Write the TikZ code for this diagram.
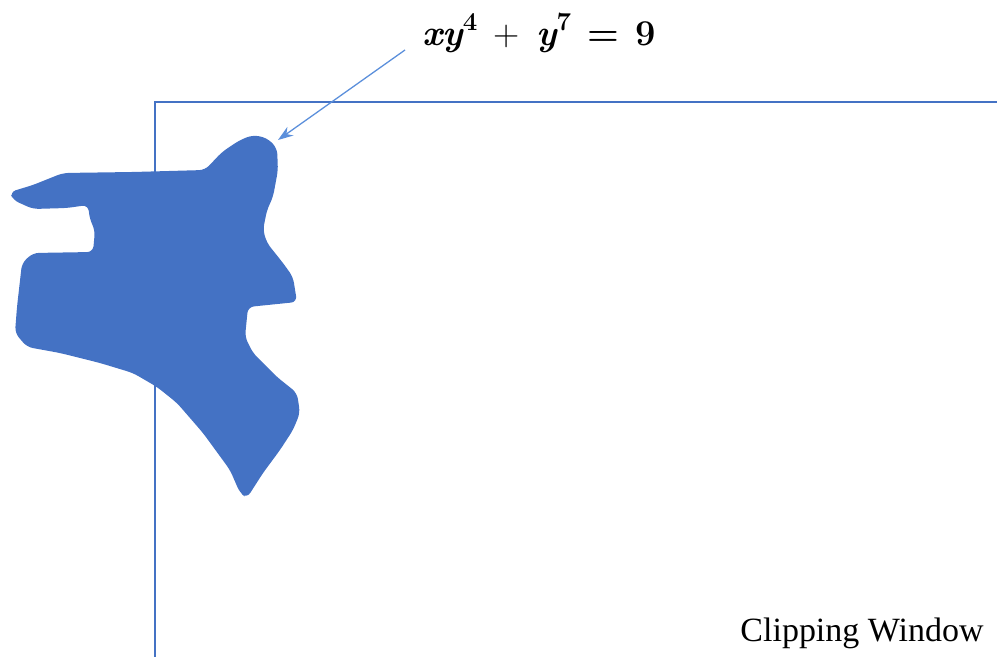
\documentclass[tikz,border=0pt]{standalone}
\usepackage{fontspec}
\newfontfamily\labelfont{Liberation Serif}
\usetikzlibrary{arrows.meta}
\definecolor{shapeblue}{HTML}{4472C4}
\definecolor{arrowblue}{HTML}{5B8FDB}
\newcommand\supfig[1]{\raisebox{0.42em}{\fontsize{22}{22}\selectfont\bfseries #1}}
\newcommand\varfig[1]{{\bfseries\itshape #1}}
\newcommand\gapfig{\hspace{0.45em}}
\tikzset{
  window/.style={draw=shapeblue, line width=1.3pt},
  blob/.style={fill=shapeblue, rounded corners=5pt},
  pointer/.style={draw=arrowblue, line width=1.1pt, -{Stealth[length=13pt,width=9pt]}},
  formulatext/.style={inner sep=0pt, font=\fontsize{31}{34}\selectfont},
  captiontext/.style={inner sep=0pt, font=\labelfont\fontsize{29}{32}\selectfont}
}
\begin{document}
\begin{tikzpicture}[x=0.03cm,y=-0.03cm]
\useasboundingbox (0,0) rectangle (997,657);
\coordinate (wtl) at (155,102);
\coordinate (wtr) at (997,102);
\coordinate (wbl) at (155,657);
\draw[window] (wtr) -- (wtl) -- (wbl);
\fill[blob] (205,170) -- (222,152) -- (240,140) -- (253,135) -- (267,138) -- (277,148) -- (278,170) -- (273,197) -- (267,210) -- (263,230) -- (267,243) -- (283,263) -- (293,277) -- (297,302) -- (248,307) -- (245,337) -- (253,353) -- (277,377) -- (297,393) -- (300,413) -- (293,430) -- (280,450) -- (263,473) -- (247,498) -- (240,493) -- (230,470) -- (203,433) -- (177,403) -- (157,387) -- (133,373) -- (100,363) -- (60,353) -- (27,347) -- (15,333) -- (17,307) -- (22,263) -- (33,253) -- (93,252) -- (95,230) -- (90,220) -- (88,205) -- (67,208) -- (33,209) -- (13,200) -- (10,192) -- (33,185) -- (63,173) -- (133,172) -- cycle;
\node[captiontext] (cap) at (862,633) {Clipping Window};
\node[formulatext] (eqn) at (539,33) {\varfig{xy}\supfig{4}\gapfig+\gapfig\varfig{y}\supfig{7}\gapfig\textbf{=}\gapfig\textbf{9}};
\coordinate (as) at (405,50);
\coordinate (ae) at (278,140);
\draw[pointer] (as) -- (ae);
\end{tikzpicture}
\end{document}
